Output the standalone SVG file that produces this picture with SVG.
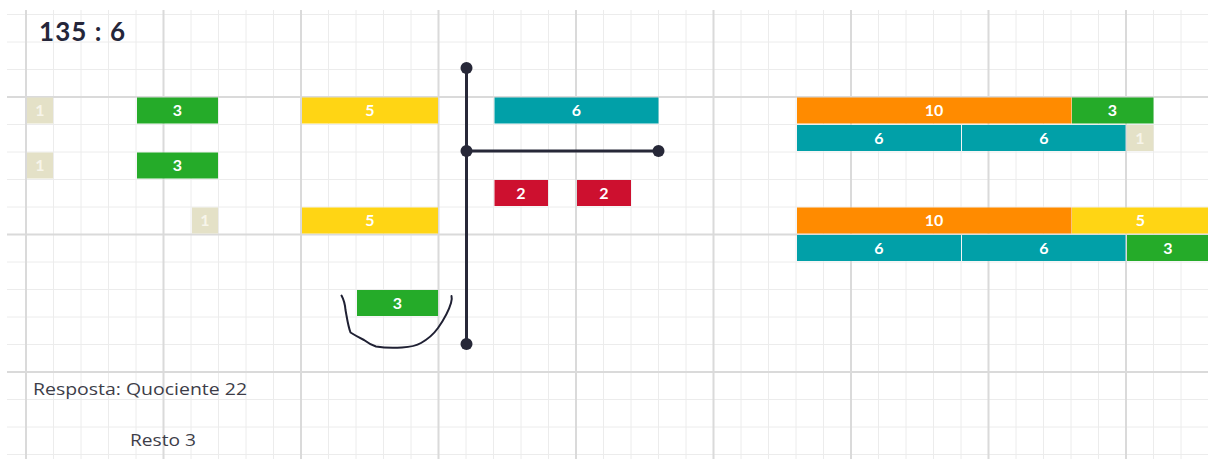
<svg xmlns="http://www.w3.org/2000/svg" width="1208" height="459" viewBox="0 0 1208 459">
<style>
.minor{stroke:#ececec;stroke-width:1;fill:none}
.major{stroke:#dadada;stroke-width:2;fill:none}
.bar{stroke:none}
.lbl{font-family:Lato,"Open Sans",sans-serif;font-weight:700;font-size:16px;fill:#ffffff;text-anchor:middle}
.lblb{font-family:Lato,"Open Sans",sans-serif;font-weight:700;font-size:16px;fill:#f7f5ea;text-anchor:middle}
.beige{fill:#e4e1c7}
.green{fill:#25ab29}
.yellow{fill:#ffd514}
.teal{fill:#01a0a8}
.orange{fill:#ff8b00}
.red{fill:#cd102f}
.ink{stroke:#272838;stroke-width:3;fill:none}
.dot{fill:#272838}
.txt{font-family:"Open Sans",Lato,sans-serif;font-size:17px;fill:#3d3d48}
</style>
<rect width="1208" height="459" fill="#ffffff"/>
<g id="grid">
<path class="minor" d="M7 14.5H1208M7 42H1208M7 69.5H1208M7 124.5H1208M7 152H1208M7 179.5H1208M7 207H1208M7 262H1208M7 289.5H1208M7 317H1208M7 344.5H1208M7 399.5H1208M7 427H1208M7 454.5H1208"/>
<path class="minor" d="M53.5 10V459M81 10V459M108.5 10V459M136 10V459M191 10V459M218.5 10V459M246 10V459M273.5 10V459M328.5 10V459M356 10V459M383.5 10V459M411 10V459M466 10V459M493.5 10V459M521 10V459M548.5 10V459M603.5 10V459M631 10V459M658.5 10V459M686 10V459M741 10V459M768.5 10V459M796 10V459M823.5 10V459M878.5 10V459M906 10V459M933.5 10V459M961 10V459M1016 10V459M1043.5 10V459M1071 10V459M1098.5 10V459M1153.5 10V459M1181 10V459"/>
<path class="major" d="M7 97H1208M7 234.5H1208M7 372H1208"/>
<path class="major" d="M26 10V459M163.5 10V459M301 10V459M438.5 10V459M576 10V459M713.5 10V459M851 10V459M988.5 10V459M1126 10V459"/>
</g>
<g id="title"><text x="39" y="41" textLength="86" lengthAdjust="spacing" style="font-family:Lato,'Open Sans',sans-serif;font-weight:700;font-size:26px;fill:#25263a">135 : 6</text></g>
<g id="left-col">
<g id="n-1a"><rect class="bar beige" x="27" y="97.5" width="26" height="26"/><text class="lblb" x="40" y="116">1</text></g>
<g id="n-3a"><rect class="bar green" x="137" y="97.5" width="81" height="26"/><text class="lbl" x="177.5" y="116">3</text></g>
<g id="n-1b"><rect class="bar beige" x="27" y="152.5" width="26" height="26"/><text class="lblb" x="40" y="171">1</text></g>
<g id="n-3b"><rect class="bar green" x="137" y="152.5" width="81" height="26"/><text class="lbl" x="177.5" y="171">3</text></g>
<g id="n-1c"><rect class="bar beige" x="192" y="207.5" width="26" height="26"/><text class="lblb" x="205" y="226">1</text></g>
</g>
<g id="dividend">
<g id="n-5a"><rect class="bar yellow" x="302" y="97.5" width="136" height="26"/><text class="lbl" x="370" y="116">5</text></g>
<g id="n-5b"><rect class="bar yellow" x="302" y="207.5" width="136" height="26"/><text class="lbl" x="370" y="226">5</text></g>
<g id="n-3c"><rect class="bar green" x="357" y="290" width="81" height="26"/><text class="lbl" x="397.5" y="308.5">3</text></g>
</g>
<g id="divisor">
<g id="n-6"><rect class="bar teal" x="494.5" y="97.5" width="164" height="26"/><text class="lbl" x="576.5" y="116">6</text></g>
<g id="n-2a"><rect class="bar red" x="494.5" y="180" width="53.5" height="26"/><text class="lbl" x="521" y="198.5">2</text></g>
<g id="n-2b"><rect class="bar red" x="577" y="180" width="54" height="26"/><text class="lbl" x="604" y="198.5">2</text></g>
</g>
<g id="connectors">
<path class="ink" d="M466.5 68V344M466.5 151H658.5"/>
<circle class="dot" cx="466.5" cy="68" r="6"/>
<circle class="dot" cx="466.5" cy="151" r="6"/>
<circle class="dot" cx="658.5" cy="151" r="6"/>
<circle class="dot" cx="466.5" cy="344" r="6"/>
<path d="M341.5 295.5C344 300 345 304 345.5 310C347 318 348 326 350.5 332.5C356 336 360 338 364 340C368 343 371 345 376 346.5C385 348 394 348 402 347.5C410 347 416 346 421 343C428 339 433 335 438 328C445 318 449 310 451 303C452 300 452 298 451.5 296" style="fill:none;stroke:#1f2033;stroke-width:2;stroke-linecap:round;stroke-linejoin:round"/>
</g>
<g id="check">
<g id="n-10a"><rect class="bar orange" x="797" y="97.5" width="274.5" height="26"/><text class="lbl" x="934" y="116">10</text></g>
<g id="n-3d"><rect class="bar green" x="1072" y="97.5" width="81.5" height="26"/><text class="lbl" x="1112.5" y="116">3</text></g>
<g id="n-6a"><rect class="bar teal" x="797" y="125" width="164" height="26"/><text class="lbl" x="879" y="143.5">6</text></g>
<g id="n-6b"><rect class="bar teal" x="962" y="125" width="163.5" height="26"/><text class="lbl" x="1044" y="143.5">6</text></g>
<g id="n-1d"><rect class="bar beige" x="1127" y="125" width="26.5" height="26"/><text class="lblb" x="1140" y="143.5">1</text></g>
<g id="n-10b"><rect class="bar orange" x="797" y="207.5" width="274.5" height="26"/><text class="lbl" x="934" y="226">10</text></g>
<g id="n-5c"><rect class="bar yellow" x="1072" y="207.5" width="137" height="26"/><text class="lbl" x="1140.5" y="226">5</text></g>
<g id="n-6c"><rect class="bar teal" x="797" y="235" width="164" height="26"/><text class="lbl" x="879" y="253.5">6</text></g>
<g id="n-6d"><rect class="bar teal" x="962" y="235" width="163.5" height="26"/><text class="lbl" x="1044" y="253.5">6</text></g>
<g id="n-3e"><rect class="bar green" x="1127" y="235" width="82" height="26"/><text class="lbl" x="1168" y="253.5">3</text></g>
</g>
<g id="answer">
<text class="txt" x="33" y="395" textLength="214" lengthAdjust="spacingAndGlyphs">Resposta: Quociente 22</text>
<text class="txt" x="130" y="446" textLength="66" lengthAdjust="spacingAndGlyphs">Resto 3</text>
</g>
</svg>
